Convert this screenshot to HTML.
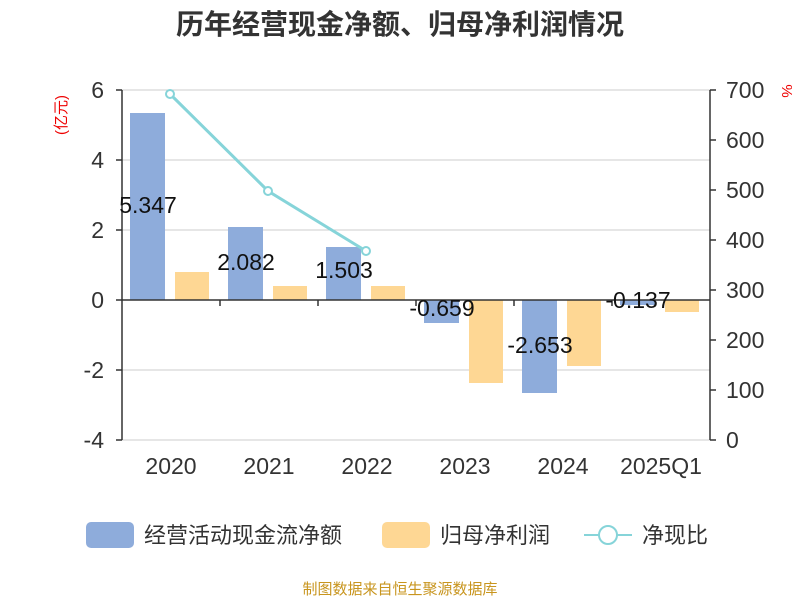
<!DOCTYPE html>
<html><head><meta charset="utf-8"><style>body{margin:0;background:#fff}svg{display:block}</style></head><body>
<svg width="800" height="600" xmlns="http://www.w3.org/2000/svg" font-family="Liberation Sans, Noto Sans CJK SC, sans-serif">
<rect width="800" height="600" fill="#fff"/>
<text x="400" y="34" text-anchor="middle" font-size="28" font-weight="bold" fill="#333">历年经营现金净额、归母净利润情况</text>
<g stroke="#ccc" stroke-width="1">
<line x1="122" y1="90" x2="710" y2="90"/><line x1="122" y1="160" x2="710" y2="160"/><line x1="122" y1="230" x2="710" y2="230"/><line x1="122" y1="370" x2="710" y2="370"/><line x1="122" y1="440" x2="710" y2="440"/>
</g>
<g fill="#8eacdb">
<rect x="130" y="113" width="35" height="187"/><rect x="228" y="227" width="35" height="73"/><rect x="326" y="247" width="35" height="53"/>
<rect x="424" y="300" width="35" height="23"/><rect x="522" y="300" width="35" height="93"/><rect x="620" y="300" width="35" height="5"/>
</g>
<g fill="#fed794">
<rect x="175" y="272" width="34" height="28"/><rect x="273" y="286" width="34" height="14"/><rect x="371" y="286" width="34" height="14"/>
<rect x="469" y="300" width="34" height="83"/><rect x="567" y="300" width="34" height="66"/><rect x="665" y="300" width="34" height="12"/>
</g>
<g stroke="#333" stroke-width="1.5" fill="none">
<line x1="122" y1="300" x2="710" y2="300"/>
<line x1="122" y1="90" x2="122" y2="440"/><line x1="710" y1="90" x2="710" y2="440"/>
<line x1="220" y1="300" x2="220" y2="306"/><line x1="318" y1="300" x2="318" y2="306"/><line x1="416" y1="300" x2="416" y2="306"/><line x1="514" y1="300" x2="514" y2="306"/><line x1="612" y1="300" x2="612" y2="306"/>
<line x1="116" y1="90" x2="122" y2="90"/><line x1="116" y1="160" x2="122" y2="160"/><line x1="116" y1="230" x2="122" y2="230"/><line x1="116" y1="300" x2="122" y2="300"/><line x1="116" y1="370" x2="122" y2="370"/><line x1="116" y1="440" x2="122" y2="440"/>
<line x1="710" y1="90" x2="716" y2="90"/><line x1="710" y1="140" x2="716" y2="140"/><line x1="710" y1="190" x2="716" y2="190"/><line x1="710" y1="240" x2="716" y2="240"/><line x1="710" y1="290" x2="716" y2="290"/><line x1="710" y1="340" x2="716" y2="340"/><line x1="710" y1="390" x2="716" y2="390"/><line x1="710" y1="440" x2="716" y2="440"/>
</g>
<polyline points="170,94 268,191 366,251" fill="none" stroke="#86d4d9" stroke-width="3"/>
<g fill="#fff" stroke="#86d4d9" stroke-width="2"><circle cx="170" cy="94" r="4"/><circle cx="268" cy="191" r="4"/><circle cx="366" cy="251" r="4"/></g>
<g font-size="23" fill="#333" text-anchor="end">
<text x="104" y="98">6</text><text x="104" y="168">4</text><text x="104" y="238">2</text><text x="104" y="308">0</text><text x="104" y="378">-2</text><text x="104" y="448">-4</text>
</g>
<g font-size="23" fill="#333">
<text x="726" y="98">700</text><text x="726" y="148">600</text><text x="726" y="198">500</text><text x="726" y="248">400</text><text x="726" y="298">300</text><text x="726" y="348">200</text><text x="726" y="398">100</text><text x="726" y="448">0</text>
</g>
<g font-size="23" fill="#333" text-anchor="middle">
<text x="171" y="474">2020</text><text x="269" y="474">2021</text><text x="367" y="474">2022</text><text x="465" y="474">2023</text><text x="563" y="474">2024</text><text x="661" y="474">2025Q1</text>
</g>
<g font-size="23" fill="#111" text-anchor="middle">
<text x="148" y="213">5.347</text><text x="246" y="270">2.082</text><text x="344" y="278">1.503</text><text x="442" y="316">-0.659</text><text x="540" y="353">-2.653</text><text x="638" y="308">-0.137</text>
</g>
<text transform="translate(66,115) rotate(-90)" text-anchor="middle" font-size="15" fill="#e00">(亿元)</text>
<text transform="translate(782,91) rotate(90)" text-anchor="middle" font-size="15" fill="#e00">%</text>
<rect x="86" y="522" width="48" height="26" rx="5" fill="#8eacdb"/>
<text x="144" y="543" font-size="22" fill="#333">经营活动现金流净额</text>
<rect x="382" y="522" width="48" height="26" rx="5" fill="#fed794"/>
<text x="440" y="543" font-size="22" fill="#333">归母净利润</text>
<line x1="584" y1="535" x2="632" y2="535" stroke="#86d4d9" stroke-width="2"/>
<circle cx="608" cy="535" r="9" fill="#fff" stroke="#86d4d9" stroke-width="2"/>
<text x="642" y="543" font-size="22" fill="#333">净现比</text>
<text x="400" y="594" text-anchor="middle" font-size="15" fill="#c8951e">制图数据来自恒生聚源数据库</text>
</svg>
</body></html>
